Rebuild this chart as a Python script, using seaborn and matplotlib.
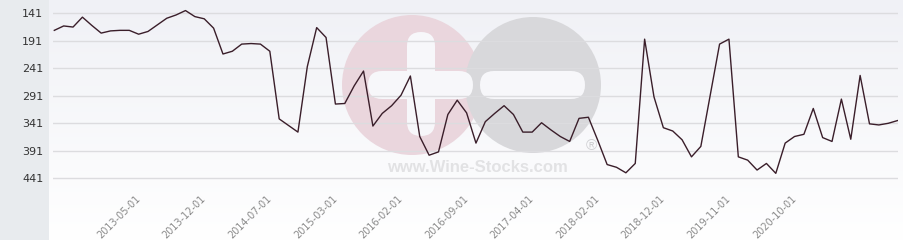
import numpy as np
import pandas as pd
import matplotlib
matplotlib.use("Agg")
import matplotlib.pyplot as plt
from matplotlib.patches import Circle, FancyBboxPatch
import seaborn as sns

# ---- data (rank, lower is better; y axis inverted) ----
ranks = [172, 164, 166, 148, 163, 177, 173, 172, 172, 179,
         174, 162, 150, 144, 136, 147, 151, 168, 215, 210,
         197, 196, 197, 210, 333, 345, 357, 238, 167, 185,
         306, 305, 273, 246, 346, 323, 309, 290, 255, 365,
         399, 393, 325, 299, 322, 377, 338, 323, 309, 325,
         357, 357, 340, 353, 365, 374, 332, 330, 372, 416,
         421, 431, 414, 188, 293, 349, 355, 371, 402, 383,
         290, 197, 188, 402, 408, 426, 414, 432, 377, 365,
         361, 314, 367, 374, 297, 370, 254, 342, 344, 341,
         336]
tick_idx = [9, 16, 23, 30, 37, 44, 51, 58, 65, 72, 79]
tick_labels = ["2013-05-01", "2013-12-01", "2014-07-01", "2015-03-01",
               "2016-02-01", "2016-09-01", "2017-04-01", "2018-02-01",
               "2018-12-01", "2019-11-01", "2020-10-01"]
y_ticks = [141, 191, 241, 291, 341, 391, 441]

df = pd.DataFrame({"idx": np.arange(len(ranks)), "rank": ranks})

W, H = 904, 240
fig = plt.figure(figsize=(W / 100, H / 100), dpi=100)
fig.patch.set_facecolor("#e8ebee")

# background gradient panel
ax_bg = fig.add_axes([49 / W, 0, 1 - 49 / W, 1], zorder=0)
grad = np.linspace(0, 1, 256).reshape(-1, 1)
top = np.array([0xf0, 0xf1, 0xf6]) / 255
bot = np.array([1.0, 1.0, 1.0])
img = top[None, None, :] * (1 - grad[:, :, None]) + bot[None, None, :] * grad[:, :, None]
ax_bg.imshow(img, aspect="auto", extent=[0, 1, 0, 1], origin="upper")
ax_bg.set_axis_off()

# watermark logo (pixel coordinates)
ax_logo = fig.add_axes([0, 0, 1, 1], zorder=1)
ax_logo.set_xlim(0, W)
ax_logo.set_ylim(H, 0)
ax_logo.set_axis_off()
ax_logo.patch.set_alpha(0)
ax_logo.add_patch(Circle((412, 85), 70, color="#ead6dd", lw=0))
ax_logo.add_patch(Circle((533, 85), 68, color="#d8d8db", lw=0))
wb = "#f7f7fa"
ax_logo.add_patch(FancyBboxPatch((407, 32), 28, 104, boxstyle="round,pad=0,rounding_size=14", color=wb, lw=0))
ax_logo.add_patch(FancyBboxPatch((368, 71), 105, 28, boxstyle="round,pad=0,rounding_size=14", color=wb, lw=0))
ax_logo.add_patch(FancyBboxPatch((480, 71), 105, 28, boxstyle="round,pad=0,rounding_size=14", color=wb, lw=0))
ax_logo.text(477, 167, "www.Wine-Stocks.com", ha="center", va="center",
             fontsize=12, fontweight="bold", family="Liberation Sans", color="#e2e2e4")
ax_logo.text(591, 146, "®", ha="center", va="center", fontsize=11,
             family="Liberation Sans", color="#d0d0d3")

# main chart
ax = fig.add_axes([53 / W, 1 - 190 / H, 845 / W, 190 / H], zorder=2)
ax.patch.set_alpha(0)
sns.lineplot(data=df, x="idx", y="rank", ax=ax, color="#3a1e2a", lw=1.0)

x0 = -0.14
ax.set_xlim(x0, x0 + 845 / 9.37)
v_top = 141 - 13.3 * 50 / 27.5
v_bot = 141 + (190 - 13.3) * 50 / 27.5
ax.set_ylim(v_bot, v_top)

ax.set_yticks(y_ticks)
ax.set_yticklabels([str(v) for v in y_ticks], fontsize=8, color="#333333")
ax.set_xticks(tick_idx)
ax.set_xticklabels(tick_labels, rotation=45, ha="right", va="center",
                   rotation_mode="anchor", fontsize=7, color="#8a8a8a")
ax.tick_params(axis="both", length=0)
ax.tick_params(axis="y", pad=7)
ax.tick_params(axis="x", pad=5)
ax.grid(axis="y", color="#dcdcdf", lw=1)
ax.grid(axis="x", visible=False)
ax.set_axisbelow(True)
for s in ax.spines.values():
    s.set_visible(False)
ax.set_xlabel("")
ax.set_ylabel("")

fig.savefig("out.png", dpi=100)
